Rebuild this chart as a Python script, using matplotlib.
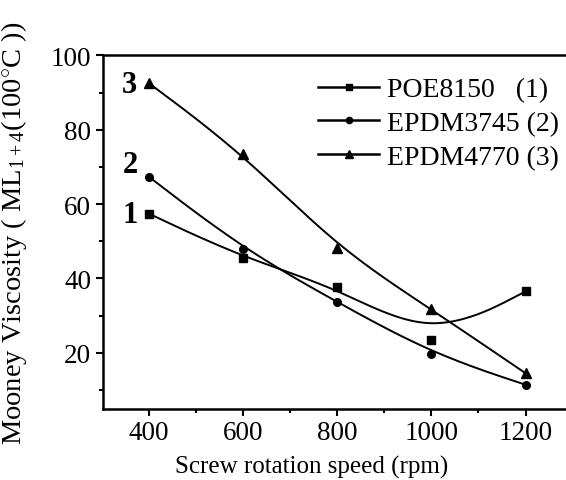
import numpy as np
import matplotlib
matplotlib.use("Agg")
import matplotlib.pyplot as plt

# Velocidad del tornillo (rpm) y viscosidad Mooney
speed = np.array([400, 600, 800, 1000, 1200])
poe8150 = np.array([57.4, 45.5, 37.6, 23.4, 36.5])
epdm3745 = np.array([67.3, 47.9, 33.6, 19.8, 11.4])
epdm4770 = np.array([92.5, 73.6, 48.2, 31.7, 14.5])

labels = ["POE8150   (1)", "EPDM3745 (2)", "EPDM4770 (3)"]
markers = ["s", "o", "^"]
tags = ["1", "2", "3"]
tag_y = [57.2, 70.7, 92.3]


def bspline(x, y, n=40):
    # B-spline cúbico uniforme, extremos repetidos (pasa por los extremos)
    px = np.concatenate([[x[0]] * 2, x, [x[-1]] * 2]).astype(float)
    py = np.concatenate([[y[0]] * 2, y, [y[-1]] * 2]).astype(float)
    t = np.linspace(0, 1, n)
    b0 = (1 - t) ** 3 / 6
    b1 = (3 * t**3 - 6 * t**2 + 4) / 6
    b2 = (-3 * t**3 + 3 * t**2 + 3 * t + 1) / 6
    b3 = t**3 / 6
    xs, ys = [], []
    for i in range(len(px) - 3):
        xs.append(b0 * px[i] + b1 * px[i + 1] + b2 * px[i + 2] + b3 * px[i + 3])
        ys.append(b0 * py[i] + b1 * py[i + 1] + b2 * py[i + 2] + b3 * py[i + 3])
    return np.concatenate(xs), np.concatenate(ys)


plt.rcParams["font.family"] = ["Liberation Serif", "DejaVu Serif"]
plt.rcParams["mathtext.fontset"] = "custom"
plt.rcParams["mathtext.rm"] = "Liberation Serif"
plt.rcParams["mathtext.it"] = "Liberation Serif"

fig = plt.figure(figsize=(5.66, 4.81), dpi=100)
ax = fig.add_axes([0.182, 0.1486, 0.818, 0.734])

series = [poe8150, epdm3745, epdm4770]
for vals, lab, mk in zip(series, labels, markers):
    xs, ys = bspline(speed, vals)
    ax.plot(xs, ys, color="black", lw=1.4)
    ms = 7 if mk == "^" else 5.5
    ax.plot(speed, vals, linestyle="none", marker=mk, color="black", ms=ms)
    ax.plot([], [], color="black", lw=1.8, marker=mk, ms=6 if mk == "^" else 4.5, label=lab)

for t, ty in zip(tags, tag_y):
    ax.text(359, ty, t, fontsize=22, fontweight="bold", ha="center", va="center")

ax.set_xlim(302, 1286)
ax.set_ylim(5, 100)
ax.set_xticks([400, 600, 800, 1000, 1200])
ax.set_xticks([500, 700, 900, 1100], minor=True)
ax.set_yticks([20, 40, 60, 80, 100])
ax.set_yticks([10, 30, 50, 70, 90], minor=True)
ax.tick_params(which="major", direction="out", length=5, width=1.5, labelsize=19.5)
ax.tick_params(which="minor", direction="out", length=3, width=1.5)
ax.spines["right"].set_visible(False)
for s in ["left", "bottom", "top"]:
    ax.spines[s].set_linewidth(1.8)

ax.set_xlabel("Screw rotation speed (rpm)", fontsize=18)
ax.xaxis.set_label_coords(0.451, -0.13)
ax.set_ylabel("Mooney Viscosity ( ML$_{1+4}$(100$^{\\circ}$C ))", fontsize=20.5)
ax.yaxis.set_label_coords(-0.16, 0.5)

ax.legend(loc="upper left", bbox_to_anchor=(0.562, 0.838), bbox_transform=fig.transFigure,
          frameon=False, fontsize=20, handlelength=2.2, handletextpad=0.28,
          labelspacing=0.3, borderpad=0, borderaxespad=0)

fig.savefig("out.png", dpi=100)
